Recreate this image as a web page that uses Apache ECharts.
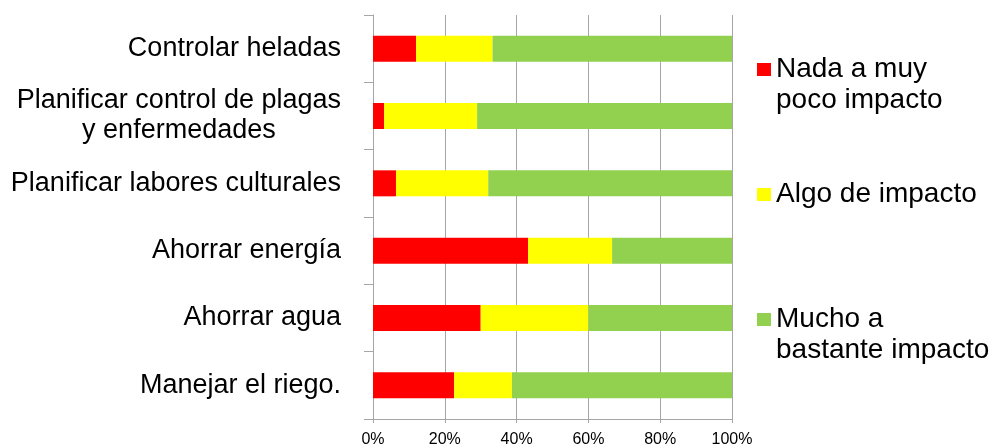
<!DOCTYPE html>
<html>
<head>
<meta charset="utf-8">
<script src="https://cdn.jsdelivr.net/npm/echarts@6/dist/echarts.min.js"></script>
<style>html,body{margin:0;padding:0;background:#fff;}#c{width:991px;height:448px;}</style>
</head>
<body>
<div id="c"></div>
<script>
var categories = ['Controlar heladas', 'Planificar control de plagas\ny enfermedades', 'Planificar labores culturales', 'Ahorrar energía', 'Ahorrar agua', 'Manejar el riego.'];
var seriesNames = ['Nada a muy\npoco impacto', 'Algo de impacto', 'Mucho a\nbastante impacto'];
var nada = [12.0, 3.1, 6.4, 43.2, 30.0, 22.6];
var algo = [21.3, 25.9, 25.7, 23.4, 30.0, 16.1];
var mucho = [66.7, 71.0, 67.9, 33.4, 40.0, 61.3];
var xTicks = [0, 20, 40, 60, 80, 100];
var colors = ['#FF0000', '#FFFF00', '#92D050'];
var values = [nada, algo, mucho];

var FONT = 'Liberation Sans, Arial, sans-serif';
var chart = echarts.init(document.getElementById('c'), null, {renderer: 'canvas'});

var series = seriesNames.map(function (n, i) {
  return {
    name: n, type: 'bar', stack: 'total', data: values[i], barWidth: 26,
    itemStyle: {color: colors[i]}, emphasis: {disabled: true}, animation: false
  };
});

var LH = 31;
function legendFor(i, top) {
  return {
    orient: 'vertical', left: 757, top: top, itemWidth: 14, itemHeight: 13, itemGap: 0,
    padding: 0, icon: 'rect', selectedMode: false,
    formatter: function (name) {
      if (name.indexOf('\n') < 0) return '{a|' + name + '}';
      return '{e| }\n' + name.split('\n').map(function (s) { return '{a|' + s + '}'; }).join('\n');
    },
    textStyle: {fontFamily: FONT, fontSize: 28, color: '#000', lineHeight: LH,
      rich: {a: {fontFamily: FONT, fontSize: 28, color: '#000', lineHeight: LH},
             e: {fontFamily: FONT, fontSize: 28, color: '#000', lineHeight: LH}}},
    data: [{name: seriesNames[i]}]
  };
}

chart.setOption({
  animation: false,
  color: colors,
  grid: {left: 373, right: 259, top: 15, bottom: 27, containLabel: false},
  legend: [legendFor(0, 23), legendFor(1, 179), legendFor(2, 273)],
  xAxis: {
    type: 'value', min: xTicks[0], max: xTicks[xTicks.length - 1], interval: 20,
    axisLine: {show: true, lineStyle: {color: '#A6A6A6', width: 1}},
    axisTick: {show: true, length: 4, lineStyle: {color: '#A6A6A6'}},
    splitLine: {show: true, lineStyle: {color: '#A6A6A6', width: 1}},
    axisLabel: {formatter: '{value}%', fontFamily: FONT, fontSize: 16, color: '#000', margin: 13}
  },
  yAxis: {
    type: 'category', inverse: true, data: categories,
    axisLine: {show: true, lineStyle: {color: '#A6A6A6', width: 1}},
    axisTick: {show: true, length: 9, lineStyle: {color: '#A6A6A6'}},
    axisLabel: {
      fontFamily: FONT, fontSize: 27, color: '#000', margin: 32, lineHeight: 30,
      formatter: function (v) {
        if (v.indexOf('\n') < 0) return v;
        return v.split('\n').map(function (s) { return '{c|' + s + '}'; }).join('\n');
      },
      rich: {c: {fontFamily: FONT, fontSize: 27, color: '#000', lineHeight: 30, align: 'center'}}
    }
  },
  series: series
});
</script>
</body>
</html>
